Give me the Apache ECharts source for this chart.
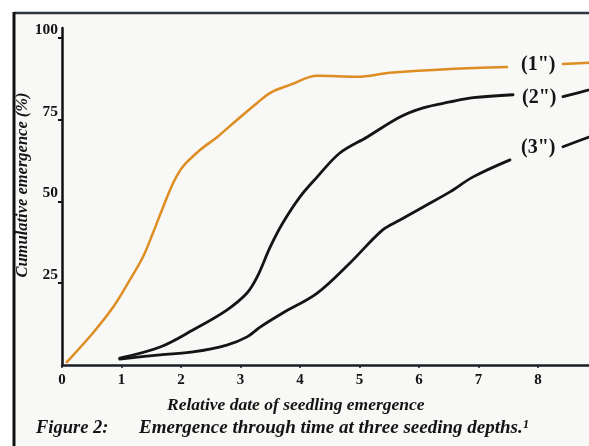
<!DOCTYPE html>
<html>
<head>
<meta charset="utf-8">
<script src="https://cdn.jsdelivr.net/npm/echarts@6/dist/echarts.min.js"></script>
<style>
html,body{margin:0;padding:0;background:#ffffff;}
#chart{width:589px;height:446px;}
</style>
</head>
<body>
<div id="chart"></div>
<script>
// ---- data ----
const xTickValues = [0, 1, 2, 3, 4, 5, 6, 7, 8];
const yTickValues = [25, 50, 75, 100];
const depthLabels = ['(1")', '(2")', '(3")'];

// 1 inch seeding depth (orange)
const depth1 = [[0.08,0.9],[0.52,9.8],[0.86,17.7],[1.14,26.0],[1.36,33.0],[1.53,40.4],[1.70,48.3],[1.87,55.7],[2.03,60.6],[2.32,65.7],[2.61,69.7],[2.94,74.9],[3.28,80.1],[3.50,83.2],[3.83,85.6],[4.29,88.4],[4.96,88.1],[5.51,89.3],[6.52,90.5],[7.48,91.1]];
const depth1Tail = [[8.42,92.0],[8.86,92.4],[9.0,92.5]];
// 2 inch seeding depth
const depth2 = [[0.97,2.1],[1.65,5.5],[2.20,10.7],[2.77,16.8],[3.11,22.0],[3.28,26.9],[3.50,36.1],[3.71,43.4],[4.00,51.4],[4.29,57.5],[4.67,64.8],[5.13,69.7],[5.68,75.8],[6.07,78.6],[6.52,80.4],[6.91,81.7],[7.58,82.6]];
const depth2Tail = [[8.42,82.0],[8.86,84.1],[9.0,84.8]];
// 3 inch seeding depth
const depth3 = [[0.97,1.8],[1.65,3.1],[2.20,4.0],[2.77,6.1],[3.11,8.6],[3.33,11.6],[3.71,15.9],[4.29,22.0],[4.84,31.2],[5.39,41.3],[5.68,44.3],[6.07,48.3],[6.52,52.9],[6.91,57.5],[7.53,62.7]];
const depth3Tail = [[8.42,66.7],[8.86,69.7],[9.0,70.6]];

const ORANGE = '#dd8d22';
const INK = '#141414';
const SERIF = '"Liberation Serif","DejaVu Serif",serif';

const chart = echarts.init(document.getElementById('chart'), null, {renderer:'canvas'});

function seg(data, color, width, label) {
  return {
    type: 'line', data: data, smooth: 0.35, symbol: 'none', clip: true,
    lineStyle: {color: color, width: width, cap: 'round'},
    silent: true,
    endLabel: label ? {
      show: true, formatter: label, distance: 12,
      color: INK, fontFamily: SERIF, fontWeight: 'bold', fontSize: 20
    } : {show: false}
  };
}

const s1 = seg(depth1, ORANGE, 2.5, depthLabels[0]);
s1.endLabel.offset = [0, -2];
s1.endLabel.distance = 14;
const s2 = seg(depth2, INK, 2.8, depthLabels[1]);
s2.endLabel.offset = [0, 3];
s2.endLabel.distance = 9;
const s3 = seg(depth3, INK, 2.8, depthLabels[2]);
s3.endLabel.offset = [0, -12];
s3.endLabel.distance = 11;

const option = {
  backgroundColor: '#ffffff',
  animation: false,
  graphic: [
    {type:'rect', shape:{x:14, y:13, width:580, height:440}, style:{fill:'#f8f8f6'}, z:-10},
    {type:'line', shape:{x1:14, y1:13, x2:589, y2:13}, style:{stroke:'#2c3440', lineWidth:2.5}, z:-5},
    {type:'line', shape:{x1:14, y1:12, x2:14, y2:446}, style:{stroke:'#111', lineWidth:3}, z:-5},
    {type:'text', x:23, y:185, rotation:Math.PI/2,
     style:{text:'Cumulative emergence (%)', align:'center', verticalAlign:'middle',
       font:'italic bold 16.5px "Liberation Serif","DejaVu Serif",serif', fill:INK}}
  ],
  title: [
    {text:'Relative date of seedling emergence', left:162, top:391,
     textStyle:{fontFamily:SERIF, fontStyle:'italic', fontWeight:'bold', fontSize:17.5, color:INK}},
    {text:'Figure 2:', left:31, top:414,
     textStyle:{fontFamily:SERIF, fontStyle:'italic', fontWeight:'bold', fontSize:18.5, color:INK}},
    {text:'Emergence through time at three seeding depths.\u00b9', left:134, top:414,
     textStyle:{fontFamily:SERIF, fontStyle:'italic', fontWeight:'bold', fontSize:19, color:INK}}
  ],
  grid: {left:62, right:0, top:28, bottom:81, containLabel:false},
  xAxis: {
    type:'value', min:0, max:8.857,
    axisLine:{show:true, lineStyle:{color:'#1a1e26', width:2.5}},
    axisTick:{show:true, customValues:xTickValues, length:3, lineStyle:{color:'#1a1e26', width:1.5}},
    axisLabel:{show:true, customValues:xTickValues, margin:8,
      fontFamily:SERIF, fontWeight:'bold', fontSize:15, color:INK},
    splitLine:{show:false}
  },
  yAxis: {
    type:'value', min:0, max:103,
    axisLine:{show:true, lineStyle:{color:'#111', width:2.5}},
    axisTick:{show:true, customValues:yTickValues, length:4, lineStyle:{color:'#111', width:2}},
    axisLabel:{show:true, customValues:yTickValues, margin:4, verticalAlign:'bottom',
      fontFamily:SERIF, fontWeight:'bold', fontSize:15.5, color:INK},
    splitLine:{show:false}
  },
  series: [
    s1, seg(depth1Tail, ORANGE, 2.5, null),
    s2, seg(depth2Tail, INK, 2.8, null),
    s3, seg(depth3Tail, INK, 2.8, null)
  ]
};
chart.setOption(option);
</script>
</body>
</html>
